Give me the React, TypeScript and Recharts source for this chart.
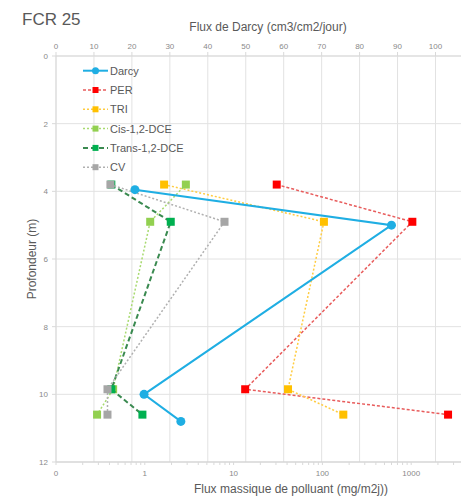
import React from "react";
import { ScatterChart, Scatter, XAxis, YAxis, CartesianGrid } from "recharts";

// ---- data ----
const darcyDepth = [3.95, 5.0, 10.0, 10.8];
const darcyFlux = [20.8, 88.4, 23.2, 32.9];

const pollDepth = [3.8, 4.9, 9.85, 10.6];
const perFlux = [30.6, 1030, 13.5, 2600];
const triFlux = [1.65, 104, 41, 172];
const cisFlux = [2.9, 1.15, 0.44, 0.29];
const transFlux = [0.42, 1.96, 0.42, 0.94];
const cvFlux = [0.41, 7.9, 0.38, 0.38];

const depthTicks = [0, 2, 4, 6, 8, 10, 12];
const darcyTicks = [0, 10, 20, 30, 40, 50, 60, 70, 80, 90, 100, 110];
const fluxMajorTicks = [0.1, 1, 10, 100, 1000];
const fluxMinorTicks = [
  0.2, 0.3, 0.4, 0.5, 0.6, 0.7, 0.8, 0.9,
  2, 3, 4, 5, 6, 7, 8, 9,
  20, 30, 40, 50, 60, 70, 80, 90,
  200, 300, 400, 500, 600, 700, 800, 900,
  2000, 3000, 4000, 5000, 6000, 7000, 8000, 9000,
];

const zip = (xs: number[], ys: number[]) => xs.map((x, i) => ({ x, y: ys[i] }));

const FONT = '"Liberation Sans", Arial, sans-serif';
const TXT = "#595959";

type SeriesDef = {
  name: string;
  color: string;
  lineColor: string;
  dash?: string;
  width: number;
  values: number[];
};

const pollSeries: SeriesDef[] = [
  { name: "PER", color: "#FF0000", lineColor: "#E85C5C", dash: "3 2", width: 1.5, values: perFlux },
  { name: "TRI", color: "#FFC000", lineColor: "#FFCC40", dash: "2 2", width: 1.5, values: triFlux },
  { name: "Cis-1,2-DCE", color: "#92D050", lineColor: "#A8DA70", dash: "2 2", width: 1.5, values: cisFlux },
  { name: "Trans-1,2-DCE", color: "#00B050", lineColor: "#3A8A50", dash: "5 3", width: 2, values: transFlux },
  { name: "CV", color: "#A6A6A6", lineColor: "#B0B0B0", dash: "2 2", width: 1.5, values: cvFlux },
];

const DARCY_COLOR = "#1FAEE3";

const squareShape = (color: string) => (p: any) =>
  <rect x={p.cx - 4} y={p.cy - 4} width={8} height={8} fill={color} />;
const circleShape = (p: any) => <circle cx={p.cx} cy={p.cy} r={4.5} fill={DARCY_COLOR} />;

const fluxFmt = (v: number) => {
  if (fluxMajorTicks.indexOf(v) < 0) return "";
  return v < 1 ? "0" : String(v);
};

const tickStyle = { fontSize: 8, fill: "#8a8a8a", fontFamily: FONT };

const legendRows = [
  { name: "Darcy", color: DARCY_COLOR, lineColor: DARCY_COLOR, dash: undefined as string | undefined, width: 2, circle: true },
  ...pollSeries.map((s) => ({ name: s.name, color: s.color, lineColor: s.lineColor, dash: s.dash, width: s.width, circle: false })),
];

export default function App() {
  const W = 520;
  const H = 491;
  return (
    <div style={{ position: "relative", width: 461, height: H, overflow: "hidden", fontFamily: FONT }}>
      <ScatterChart width={W} height={H} margin={{ top: 0, right: 28, bottom: 0, left: 0 }}>
        <CartesianGrid xAxisId="top" yAxisId="d" stroke="#e2e2e2" />
        <XAxis
          xAxisId="top"
          orientation="top"
          type="number"
          dataKey="x"
          domain={[0, 117]}
          ticks={darcyTicks}
          interval={0}
          height={48}
          tick={tickStyle}
          tickSize={4}
          tickMargin={3}
          axisLine={{ stroke: "#d9d9d9" }}
          tickLine={{ stroke: "#d9d9d9" }}
          allowDataOverflow
        />
        <XAxis
          xAxisId="bot"
          orientation="bottom"
          type="number"
          dataKey="x"
          scale="log"
          domain={[0.1, 10000]}
          ticks={[...fluxMajorTicks, ...fluxMinorTicks].sort((a, b) => a - b)}
          tickFormatter={fluxFmt}
          interval={0}
          height={37}
          tick={tickStyle}
          tickSize={3}
          tickMargin={5}
          axisLine={{ stroke: "#cfcfcf" }}
          tickLine={{ stroke: "#d9d9d9" }}
          allowDataOverflow
        />
        <YAxis
          yAxisId="d"
          type="number"
          dataKey="y"
          reversed
          domain={[0, 12]}
          ticks={depthTicks}
          interval={0}
          width={48}
          tick={tickStyle}
          tickSize={4}
          tickMargin={4}
          axisLine={{ stroke: "#d9d9d9" }}
          tickLine={{ stroke: "#d9d9d9" }}
        />
        {pollSeries.map((s) => (
          <Scatter
            key={s.name}
            name={s.name}
            xAxisId="bot"
            yAxisId="d"
            data={zip(s.values, pollDepth)}
            fill={s.color}
            line={{ stroke: s.lineColor, strokeWidth: s.width, strokeDasharray: s.dash }}
            shape={squareShape(s.color)}
            isAnimationActive={false}
          />
        ))}
        <Scatter
          name="Darcy"
          xAxisId="top"
          yAxisId="d"
          data={zip(darcyFlux, darcyDepth)}
          fill={DARCY_COLOR}
          line={{ stroke: DARCY_COLOR, strokeWidth: 2 }}
          shape={circleShape}
          isAnimationActive={false}
        />
      </ScatterChart>
      <svg
        width={461}
        height={H}
        style={{ position: "absolute", left: 0, top: 0, pointerEvents: "none" }}
      >
        <text x={14} y={16.5} fontSize={17} fill={TXT} fontFamily={FONT}>FCR 25</text>
        <text x={260} y={22.5} fontSize={12} fill={TXT} textAnchor="middle" fontFamily={FONT}>
          Flux de Darcy (cm3/cm2/jour)
        </text>
        <text x={283} y={485} fontSize={12} fill={TXT} textAnchor="middle" fontFamily={FONT}>
          Flux massique de polluant (mg/m2j))
        </text>
        <text
          x={28}
          y={251}
          fontSize={12}
          fill={TXT}
          textAnchor="middle"
          fontFamily={FONT}
          transform="rotate(-90 28 251)"
        >
          Profondeur (m)
        </text>
        {legendRows.map((r, i) => {
          const cy = 62.7 + i * 19.3;
          return (
            <g key={r.name}>
              <line x1={75} x2={100} y1={cy} y2={cy} stroke={r.lineColor} strokeWidth={r.width} strokeDasharray={r.dash} />
              {r.circle ? (
                <circle cx={87.5} cy={cy} r={3.5} fill={r.color} />
              ) : (
                <rect x={84.5} y={cy - 3} width={6} height={6} fill={r.color} />
              )}
              <text x={102} y={cy + 4} fontSize={11} fill={TXT} fontFamily={FONT}>{r.name}</text>
            </g>
          );
        })}
      </svg>
    </div>
  );
}
